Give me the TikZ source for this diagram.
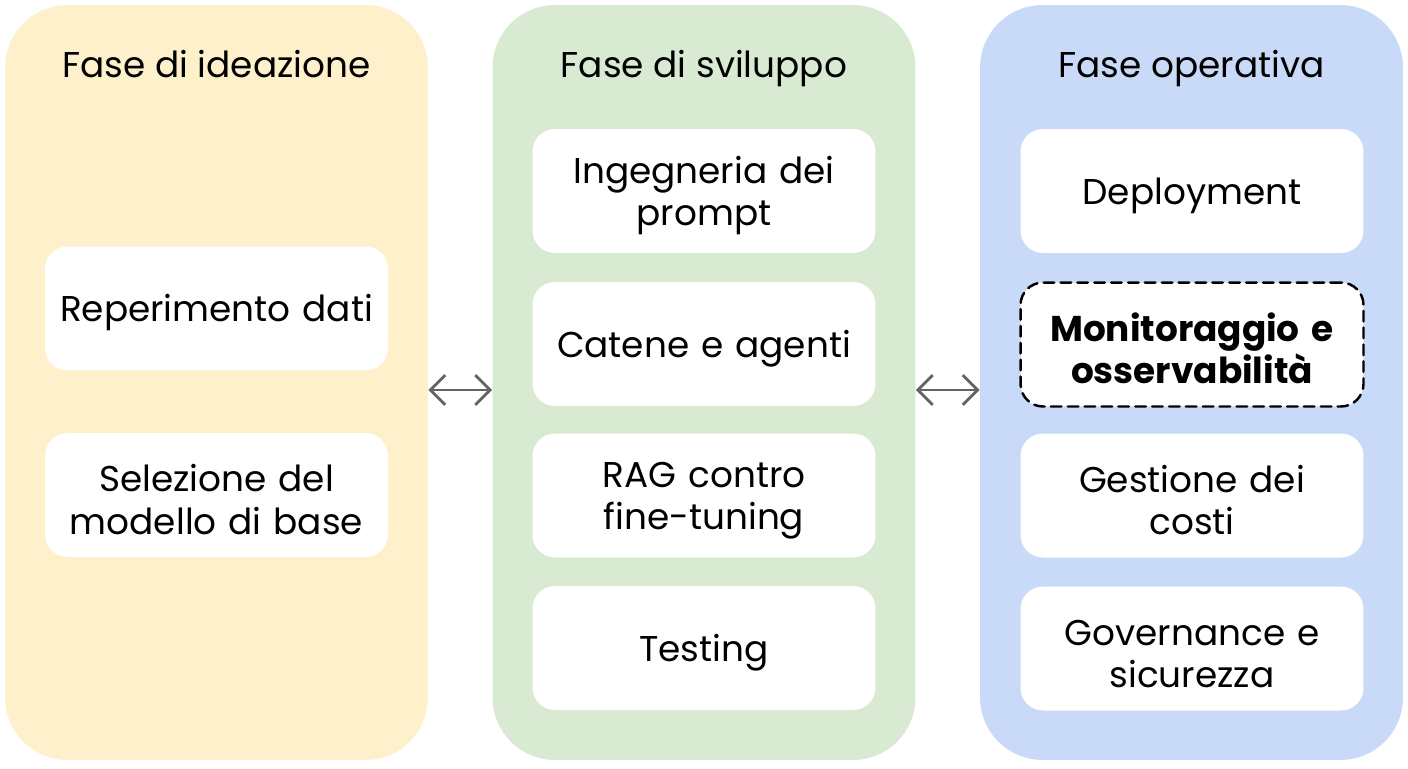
\documentclass[tikz,border=0pt]{standalone}
\usepackage{fontspec}
\setmainfont{Poppins}
\usetikzlibrary{arrows.meta}
\definecolor{ideafill}{HTML}{FDF0CB}
\definecolor{svilfill}{HTML}{D9EAD3}
\definecolor{operfill}{HTML}{C9DAF8}
\definecolor{linkgray}{HTML}{646464}
\tikzset{
  every picture/.style={line join=round, line cap=round},
  phase/.style={rounded corners=1.25cm, minimum width=8.46cm, minimum height=15.1cm, inner sep=0pt},
  phasetitle/.style={anchor=base, font=\fontsize{20.4}{24}\selectfont},
  stepbox/.style={fill=white, rounded corners=0.45cm, minimum width=6.86cm, minimum height=2.48cm,
    text width=6.6cm, align=center, inner sep=0pt, font=\fontsize{20.4}{24.2}\selectfont,
    execute at begin node={\rule{0pt}{20.5pt}}},
  focusbox/.style={stepbox, draw=black, line width=1.4pt, dash pattern=on 6pt off 3.6pt,
    font=\fontsize{20.4}{24.2}\selectfont\bfseries},
  link/.style={{Straight Barb[length=8.5pt,width=17pt]}-{Straight Barb[length=8.5pt,width=17pt]}, linkgray, line width=1.6pt},
}
\begin{document}
\begin{tikzpicture}[x=0.02cm,y=-0.02cm]
\useasboundingbox (0,0) rectangle (1408,768);
% fasi
\node[phase,fill=ideafill] (idea) at (216.5,382.5) {};
\node[phase,fill=svilfill] (svil) at (704,382.5) {};
\node[phase,fill=operfill] (oper) at (1191.5,382.5) {};
\node[phasetitle] (ideaT) at (216.5,77) {Fase di ideazione};
\node[phasetitle] (svilT) at (704,77) {Fase di sviluppo};
\node[phasetitle] (operT) at (1191.5,77) {Fase operativa};
% ideazione
\node[stepbox] (dati) at (216.5,308.5) {Reperimento dati};
\node[stepbox] (modello) at (216.5,495) {Selezione del\\modello di base};
% sviluppo
\node[stepbox] (prompt) at (704,191) {Ingegneria dei\\prompt};
\node[stepbox] (catene) at (704,344) {Catene e agenti};
\node[stepbox] (rag) at (704,495.5) {RAG contro\\fine-tuning};
\node[stepbox] (testing) at (704,648) {Testing};
% operativa
\node[stepbox] (deploy) at (1192,191) {Deployment};
\node[focusbox] (monitor) at (1192,344.5) {Monitoraggio e\\osservabilit\`a};
\node[stepbox] (costi) at (1192,495.5) {Gestione dei\\costi};
\node[stepbox] (gov) at (1192,648.5) {Governance e\\sicurezza};
% frecce
\draw[link] ([yshift=-0.15cm]idea.east) -- ([yshift=-0.15cm]svil.west);
\draw[link] ([yshift=-0.15cm]svil.east) -- ([yshift=-0.15cm]oper.west);
\end{tikzpicture}
\end{document}
